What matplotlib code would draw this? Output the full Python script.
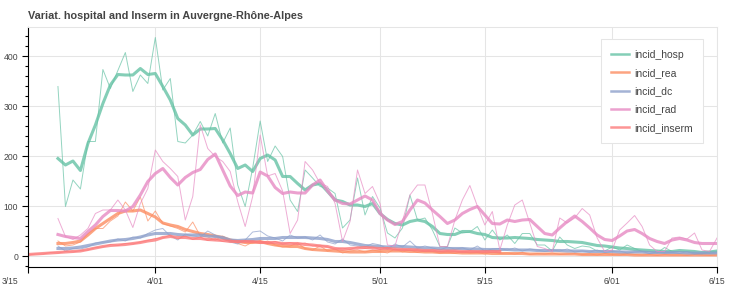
import matplotlib
matplotlib.use("Agg")

import matplotlib.pyplot as plt
import matplotlib.dates as mdates
from matplotlib.ticker import MultipleLocator, FixedLocator, NullLocator
from matplotlib.transforms import ScaledTranslation
import pandas as pd

# daily values (thin) and smoothed values (thick)
hosp_start = "2020-03-19"
inserm_start = "2020-03-15"

incid_hosp = [
    339, 99, 152, 134, 229, 229, 373, 335, 371, 407,
    329, 362, 345, 437, 332, 355, 229, 226, 242, 269,
    240, 285, 226, 256, 142, 99, 176, 270, 189, 220,
    199, 112, 89, 172, 156, 139, 136, 125, 56, 72,
    156, 82, 119, 96, 46, 36, 56, 122, 72, 76,
    52, 19, 19, 56, 46, 48, 59, 32, 52, 32,
    42, 25, 45, 45, 22, 22, 10, 38, 22, 15,
    20, 18, 10, 10, 18, 12, 22, 15, 9, 9,
    6, 17, 9, 9, 9, 6, 4, 9, 8,
]
incid_hosp_smooth = [
    195, 182, 190, 171, 225, 262, 305, 342, 363, 362,
    362, 375, 363, 365, 339, 312, 275, 262, 242, 254,
    254, 255, 232, 205, 175, 182, 169, 195, 202, 192,
    159, 159, 145, 132, 142, 145, 129, 112, 109, 102,
    102, 99, 105, 85, 73, 65, 62, 69, 72, 69,
    59, 45, 43, 43, 49, 49, 45, 43, 37, 36,
    36, 37, 36, 35, 33, 32, 31, 29, 29, 28,
    27, 24, 21, 20, 18, 16, 15, 13, 12, 11,
    10, 9, 9, 11, 10, 9, 7, 8, 10,
]
incid_rea = [
    30, 20, 22, 28, 45, 55, 55, 70, 80, 108,
    90, 118, 70, 90, 65, 60, 55, 48, 68, 40,
    38, 32, 40, 30, 25, 20, 28, 25, 30, 22,
    18, 20, 26, 15, 12, 20, 10, 14, 6, 10,
    12, 8, 12, 9, 6, 14, 8, 12, 7, 10,
    9, 6, 8, 5, 9, 6, 7, 4, 8, 5,
    6, 4, 7, 3, 5, 4, 6, 3, 4, 5,
    3, 4, 2, 5, 3, 2, 4, 3, 2, 3,
    1, 3, 2, 2, 1, 3, 2, 1, 2,
]
incid_rea_smooth = [
    25, 25, 27, 30, 42, 55, 65, 75, 85, 90,
    90, 92, 85, 78, 66, 62, 59, 53, 49, 45,
    43, 40, 37, 32, 29, 27, 27, 29, 25, 22,
    20, 19, 19, 15, 13, 12, 11, 10, 9, 8,
    8, 8, 9, 9, 10, 10, 10, 9, 9, 8,
    8, 7, 7, 7, 6, 6, 6, 6, 5, 5,
    5, 5, 5, 4, 4, 4, 4, 4, 4, 4,
    3, 3, 3, 3, 3, 3, 3, 2, 2, 2,
    2, 2, 2, 2, 2, 2, 2, 2, 2,
]
incid_dc = [
    20, 10, 15, 14, 18, 26, 28, 28, 34, 30,
    38, 36, 45, 52, 55, 40, 32, 44, 40, 38,
    50, 42, 34, 28, 24, 32, 48, 50, 40, 36,
    30, 42, 36, 38, 32, 42, 28, 24, 34, 22,
    20, 18, 25, 22, 14, 24, 18, 30, 16, 20,
    16, 12, 18, 14, 16, 12, 20, 10, 14, 15,
    12, 16, 10, 14, 12, 9, 12, 10, 14, 8,
    10, 8, 12, 7, 9, 10, 6, 8, 9, 5,
    8, 6, 7, 5, 9, 4, 6, 5, 6,
]
incid_dc_smooth = [
    15, 15, 16, 18, 21, 24, 27, 30, 32, 33,
    35, 38, 42, 45, 45, 45, 43, 42, 42, 42,
    40, 39, 37, 32, 31, 32, 33, 35, 35, 35,
    37, 37, 37, 37, 36, 35, 33, 29, 29, 27,
    24, 21, 20, 19, 18, 19, 19, 18, 17, 16,
    16, 15, 15, 15, 15, 14, 14, 13, 13, 13,
    13, 12, 12, 12, 11, 11, 11, 11, 10, 10,
    10, 9, 9, 9, 9, 8, 8, 8, 8, 7,
    7, 7, 7, 7, 6, 6, 6, 6, 6,
]
incid_rad = [
    75, 39, 33, 42, 55, 85, 92, 92, 112, 92,
    57, 105, 135, 212, 189, 175, 159, 72, 119, 262,
    215, 199, 189, 169, 109, 59, 119, 242, 160, 165,
    130, 45, 72, 189, 172, 145, 139, 105, 29, 69,
    172, 125, 139, 105, 22, 20, 70, 122, 142, 142,
    85, 19, 19, 72, 112, 141, 100, 62, 89, 12,
    62, 102, 112, 66, 19, 15, 9, 76, 66, 76,
    95, 82, 36, 9, 12, 52, 66, 81, 59, 22,
    9, 9, 36, 38, 34, 46, 12, 9, 36,
]
incid_rad_smooth = [
    43, 39, 37, 35, 49, 62, 79, 91, 91, 90,
    99, 122, 149, 165, 175, 157, 142, 157, 167, 173,
    193, 204, 172, 140, 121, 128, 126, 168, 160, 137,
    125, 128, 126, 126, 142, 152, 130, 112, 105, 104,
    112, 120, 112, 85, 72, 63, 69, 92, 112, 106,
    92, 79, 65, 72, 85, 93, 99, 82, 65, 64,
    72, 69, 72, 73, 59, 45, 42, 56, 69, 80,
    69, 56, 42, 33, 31, 40, 50, 53, 45, 35,
    29, 25, 32, 35, 32, 27, 25, 25, 25,
]
incid_inserm = [
    2, 4, 4, 7, 6, 9, 8, 11, 12, 17,
    18, 23, 21, 25, 24, 28, 31, 35, 36, 42,
    34, 40, 33, 38, 31, 35, 29, 32, 27, 31,
    28, 30, 25, 29, 24, 27, 23, 26, 20, 22,
    18, 14, 16, 13, 18, 15, 18, 13, 17, 12,
    14, 12, 13, 10, 12, 9, 11, 10, 8, 10,
    9, 8, 10, 8,
]
incid_inserm_smooth = [
    3, 4, 5, 6, 7, 8, 9, 10, 13, 16,
    19, 21, 22, 23, 25, 27, 30, 32, 37, 39,
    37, 37, 35, 35, 33, 32, 31, 29, 29, 29,
    29, 27, 27, 27, 25, 25, 25, 23, 22, 20,
    19, 15, 14, 15, 16, 17, 16, 15, 15, 14,
    13, 13, 12, 11, 11, 10, 10, 10, 9, 9,
    9, 9, 9, 9,
]

tick_dates = ["2020-03-15", "2020-04-01", "2020-04-15", "2020-05-01",
              "2020-05-15", "2020-06-01", "2020-06-15"]
tick_labels = ["3/15", "4/01", "4/15", "5/01", "5/15", "6/01", "6/15"]
title = "Variat. hospital and Inserm in Auvergne-Rhône-Alpes"

series = [
    ("incid_hosp", hosp_start, incid_hosp, incid_hosp_smooth, "#66c2a5"),
    ("incid_rea", hosp_start, incid_rea, incid_rea_smooth, "#fc8d62"),
    ("incid_dc", hosp_start, incid_dc, incid_dc_smooth, "#8da0cb"),
    ("incid_rad", hosp_start, incid_rad, incid_rad_smooth, "#e78ac3"),
    ("incid_inserm", inserm_start, incid_inserm, incid_inserm_smooth, "#fc7b7b"),
]

plt.rcParams["font.family"] = ["Liberation Sans", "DejaVu Sans"]

fig = plt.figure(figsize=(7.41, 2.89), dpi=100)
ax = fig.add_axes([28 / 741, 22 / 289, 689 / 741, 240 / 289])

for name, start, raw, smooth, color in series:
    dates = pd.date_range(start, periods=len(raw), freq="D")
    ax.plot(dates, raw, color=color, lw=0.7, alpha=0.7)
    ax.plot(dates, smooth, color=color, lw=2.2, alpha=0.8, label=name)

ax.set_xlim(pd.Timestamp(tick_dates[0]), pd.Timestamp(tick_dates[-1]))
ax.set_ylim(-22, 458)

ax.xaxis.set_major_locator(FixedLocator(mdates.date2num(pd.to_datetime(tick_dates))))
ax.xaxis.set_minor_locator(NullLocator())
ax.set_xticklabels(tick_labels)
ax.yaxis.set_major_locator(MultipleLocator(100))
ax.yaxis.set_minor_locator(MultipleLocator(20))

ax.grid(True, which="major", color="#e5e5e5", lw=0.75)
ax.set_axisbelow(True)
for side in ("top", "right"):
    ax.spines[side].set_color("#e5e5e5")
    ax.spines[side].set_linewidth(0.75)
for side in ("left", "bottom"):
    ax.spines[side].set_color("black")
    ax.spines[side].set_linewidth(0.8)

ax.tick_params(which="major", length=4, width=0.8, color="black",
               labelsize=6.2, labelcolor="#444444", pad=3)
ax.tick_params(which="minor", length=2, width=0.8, color="black")

first = ax.get_xticklabels()[0]
first.set_transform(first.get_transform() + ScaledTranslation(-0.18, 0, fig.dpi_scale_trans))

ax.set_title(title, loc="left", fontsize=7.8, fontweight="bold", color="#444444", pad=6)

leg = ax.legend(loc="upper right", bbox_to_anchor=(0.987, 0.971), fontsize=7.5,
                frameon=True, fancybox=False, framealpha=1, edgecolor="#e5e5e5",
                handlelength=1.65, handletextpad=0.5, labelspacing=0.8, borderpad=1.0)
for text in leg.get_texts():
    text.set_color("#444444")
for line in leg.get_lines():
    line.set_linewidth(1.8)
leg.get_frame().set_linewidth(0.75)

fig.savefig("out.png", dpi=100)
